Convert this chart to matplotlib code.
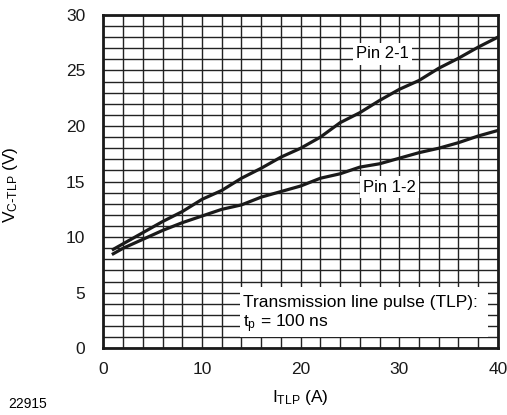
import matplotlib
matplotlib.use("Agg")
import matplotlib.pyplot as plt
from matplotlib.patches import Rectangle
from matplotlib.ticker import MultipleLocator

plt.rcParams['font.family'] = ['Liberation Sans', 'DejaVu Sans']

# TLP current (A) and clamping voltage (V)
i_tlp = [1, 2, 4, 6, 8, 10, 12, 14, 16, 18, 20, 22, 24, 26, 28, 30, 32, 34, 36, 38, 40]
v_pin21 = [8.9, 9.4, 10.4, 11.4, 12.3, 13.4, 14.2, 15.3, 16.2, 17.2, 18.0, 19.0, 20.3, 21.2,
           22.3, 23.3, 24.1, 25.2, 26.1, 27.1, 28.0]
v_pin12 = [8.5, 9.0, 9.8, 10.6, 11.3, 11.9, 12.5, 12.9, 13.6, 14.1, 14.6, 15.3, 15.7, 16.3,
           16.6, 17.1, 17.6, 18.0, 18.5, 19.1, 19.6]

fig = plt.figure(figsize=(5.07, 4.15), dpi=100)
ax = fig.add_axes([0.204, 0.161, 0.778, 0.803])

ax.plot(i_tlp, v_pin21, color='#1a1a1a', lw=2.3, zorder=4)
ax.plot(i_tlp, v_pin12, color='#1a1a1a', lw=2.3, zorder=4)

ax.set_xlim(0, 40)
ax.set_ylim(0, 30)
ax.xaxis.set_major_locator(MultipleLocator(10))
ax.xaxis.set_minor_locator(MultipleLocator(2))
ax.yaxis.set_major_locator(MultipleLocator(5))
ax.yaxis.set_minor_locator(MultipleLocator(1))
ax.grid(which='both', color='#222222', lw=1.0)
ax.set_axisbelow(True)
ax.tick_params(which='both', length=0, labelsize=12.5, colors='#1a1a1a')
ax.tick_params(axis='x', pad=10)
ax.tick_params(axis='y', pad=13)
for s in ax.spines.values():
    s.set_linewidth(2.0)
    s.set_color('#1a1a1a')
    s.set_zorder(5)

# labels on white boxes
bb = dict(boxstyle='square,pad=0.2', fc='white', ec='none')
ax.text(28.3, 26.5, 'Pin 2-1', fontsize=12, ha='center', va='center', bbox=bb, zorder=3)
ax.text(29.0, 14.5, 'Pin 1-2', fontsize=12, ha='center', va='center', bbox=bb, zorder=3)

ax.add_patch(Rectangle((13.8, 1.0), 25.2, 4.5, fc='white', ec='none', zorder=2.5))
ax.text(14.2, 4.1, 'Transmission line pulse (TLP):', fontsize=12.5, ha='left', va='center', zorder=3)
ax.text(14.2, 2.2, r'$\mathregular{t_p}$ = 100 ns', fontsize=12.5, ha='left', va='center', zorder=3)

ax.set_xlabel(r'$\mathregular{I_{TLP}}$ (A)', fontsize=12.5, labelpad=8)
ax.set_ylabel(r'$\mathregular{V_{C\text{-}TLP}}$ (V)', fontsize=12.5)
ax.yaxis.set_label_coords(-0.212, 0.49)
fig.text(0.016, 0.01, '22915', fontsize=10, ha='left', va='bottom')

fig.savefig('out.png', dpi=100)
